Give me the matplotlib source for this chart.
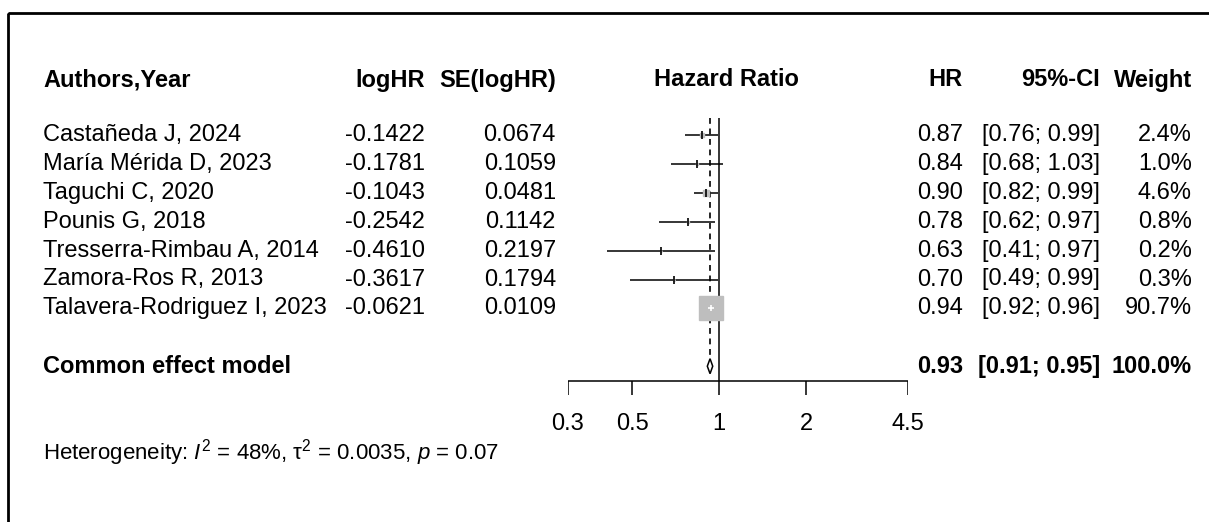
import numpy as np
import matplotlib
matplotlib.use("Agg")
import matplotlib.pyplot as plt
from matplotlib.patches import Rectangle

plt.rcParams['font.family'] = ['Liberation Sans', 'DejaVu Sans']
plt.rcParams['mathtext.fontset'] = 'custom'
plt.rcParams['mathtext.rm'] = 'Liberation Sans'
plt.rcParams['mathtext.it'] = 'Liberation Sans:italic'

# data
authors = ["Castañeda J, 2024", "María Mérida D, 2023", "Taguchi C, 2020",
           "Pounis G, 2018", "Tresserra-Rimbau A, 2014", "Zamora-Ros R, 2013",
           "Talavera-Rodriguez I, 2023"]
loghr = [-0.1422, -0.1781, -0.1043, -0.2542, -0.4610, -0.3617, -0.0621]
se_loghr = [0.0674, 0.1059, 0.0481, 0.1142, 0.2197, 0.1794, 0.0109]
hr = [0.87, 0.84, 0.90, 0.78, 0.63, 0.70, 0.94]
ci_lo = [0.76, 0.68, 0.82, 0.62, 0.41, 0.49, 0.92]
ci_hi = [0.99, 1.03, 0.99, 0.97, 0.97, 0.99, 0.96]
weight = [2.4, 1.0, 4.6, 0.8, 0.2, 0.3, 90.7]

common_hr = 0.93
common_lo = 0.91
common_hi = 0.95
common_w = 100.0

xticks = [0.3, 0.5, 1, 2, 4.5]
xticklabels = ["0.3", "0.5", "1", "2", "4.5"]

W, H = 1209, 522
fig = plt.figure(figsize=(W / 100, H / 100), dpi=100)
ax = fig.add_axes([0, 0, 1, 1])
ax.set_xlim(0, W)
ax.set_ylim(H, 0)
ax.axis('off')

# forest panel, log scale
fx = fig.add_axes([568 / W, 0, 340 / W, 1])
fx.set_xscale('log')
fx.set_xlim(0.3, 4.5)
fx.set_ylim(H, 0)
fx.axis('off')

# layout (pixels)
header_y = 80
row0, dy = 135, 28.9
rows = [row0 + dy * i for i in range(len(authors))]
common_y = rows[-1] + 2 * dy
axis_y = common_y + 15
label_y = axis_y + 43
het_y = label_y + 28
fs = 17

x_auth, x_log, x_se, x_title = 43, 425, 556, 726
x_hr, x_ci, x_w = 963, 1100, 1192

# frame
ax.add_patch(Rectangle((8, 12.5), W, H, fill=False, lw=2, ec='black'))

# headers
hkw = dict(fontsize=fs, fontweight='bold', va='center')
ax.text(x_auth, header_y, "Authors,Year", ha='left', **hkw)
ax.text(x_log, header_y, "logHR", ha='right', **hkw)
ax.text(x_se, header_y, "SE(logHR)", ha='right', **hkw)
ax.text(x_title, header_y, "Hazard Ratio", ha='center', **hkw)
ax.text(x_hr, header_y, "HR", ha='right', **hkw)
ax.text(x_ci, header_y, "95%-CI", ha='right', **hkw)
ax.text(x_w, header_y, "Weight", ha='right', **hkw)

# study rows
for i, y in enumerate(rows):
    ax.text(x_auth, y, authors[i], ha='left', va='center', fontsize=fs)
    ax.text(x_log, y, f"{loghr[i]:.4f}", ha='right', va='center', fontsize=fs)
    ax.text(x_se, y, f"{se_loghr[i]:.4f}", ha='right', va='center', fontsize=fs)
    ax.text(x_hr, y, f"{hr[i]:.2f}", ha='right', va='center', fontsize=fs)
    ax.text(x_ci, y, f"[{ci_lo[i]:.2f}; {ci_hi[i]:.2f}]", ha='right', va='center', fontsize=fs)
    ax.text(x_w, y, f"{weight[i]:.1f}%", ha='right', va='center', fontsize=fs)

# common effect row
ckw = dict(fontsize=fs, fontweight='bold', va='center')
ax.text(x_auth, common_y, "Common effect model", ha='left', **ckw)
ax.text(x_hr, common_y, f"{common_hr:.2f}", ha='right', **ckw)
ax.text(x_ci, common_y, f"[{common_lo:.2f}; {common_hi:.2f}]", ha='right', **ckw)
ax.text(x_w, common_y, f"{common_w:.1f}%", ha='right', **ckw)

# reference lines
fx.vlines(1, rows[0] - 17, axis_y, color='black', lw=1.1)
fx.vlines(common_hr, rows[0] - 17, common_y - 8, color='black', lw=1.2,
          linestyles=(0, (3.5, 2.8)))

# CIs and squares
fx.hlines(rows, ci_lo, ci_hi, color='black', lw=1.1)
wmax = max(weight)
for i, y in enumerate(rows):
    side = 24 * np.sqrt(weight[i] / wmax)
    fx.plot(hr[i], y, marker='s', ms=side * 0.72, color='#BEBEBE', mec='#BEBEBE')
    if side > 10:
        fx.plot(hr[i], y, marker='+', ms=5, color='white', mew=1.2)
    else:
        fx.plot(hr[i], y, marker='|', ms=6, color='black', mew=1.2)

# diamond
fx.fill([common_lo, common_hr, common_hi, common_hr],
        [common_y, common_y - 7.5, common_y, common_y + 7.5],
        facecolor='white', edgecolor='black', lw=1.1)

# x axis
fx.hlines(axis_y, xticks[0], xticks[-1], color='black', lw=1.1)
fx.vlines(xticks, axis_y, axis_y + 14, color='black', lw=1.1)
for t, lab in zip(xticks, xticklabels):
    fx.text(t, label_y, lab, ha='center', va='center', fontsize=fs, clip_on=False)

ax.text(x_auth, het_y, r"Heterogeneity: $I^2$ = 48%, τ$^2$ = 0.0035, $p$ = 0.07",
        ha='left', va='center', fontsize=16)

fig.savefig("out.png", dpi=100)
